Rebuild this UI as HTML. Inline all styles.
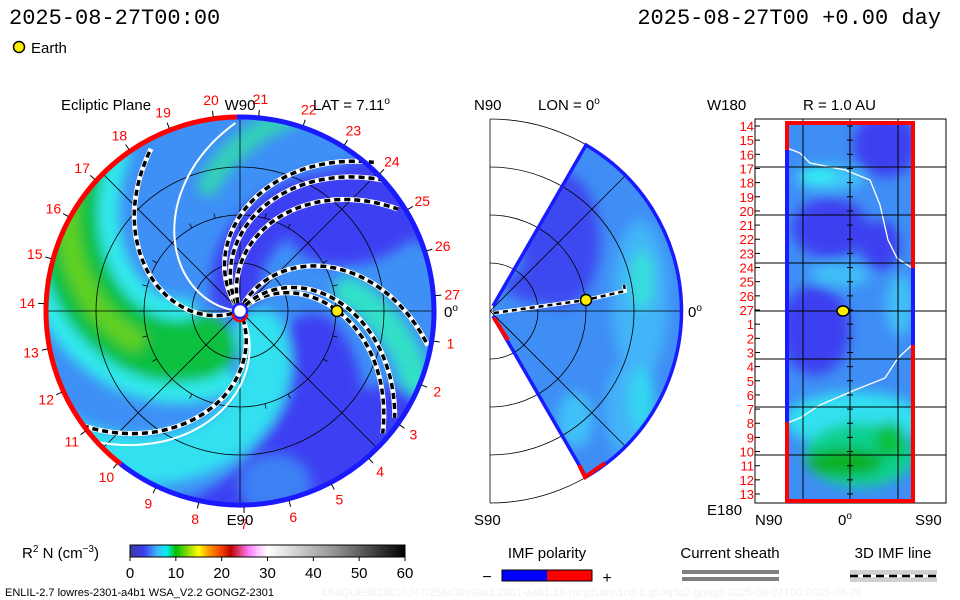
<!DOCTYPE html>
<html><head><meta charset="utf-8"><style>
html,body{margin:0;padding:0;background:#fff;}
svg{display:block;font-family:"Liberation Sans",sans-serif;}
</style></head><body>
<svg id="main" width="960" height="600" viewBox="0 0 960 600">
<defs>
 <filter id="blur" x="-20%" y="-20%" width="140%" height="140%"><feGaussianBlur stdDeviation="6"/></filter>
 <clipPath id="clipL"><circle cx="240" cy="311" r="193"/></clipPath>
 <clipPath id="clipM"><path d="M493,306 L586,145 A192,192 0 0 1 586,477 L493,316 Z"/></clipPath>
 <clipPath id="clipR"><rect x="785" y="122" width="129" height="380"/></clipPath>
</defs>

<text x="9" y="24" font-family="Liberation Mono, monospace" font-size="22">2025-08-27T00:00</text>
<text x="941" y="24" text-anchor="end" font-family="Liberation Mono, monospace" font-size="22">2025-08-27T00 +0.00 day</text>
<circle cx="19" cy="47" r="5.5" fill="#ffee00" stroke="#000" stroke-width="1.5"/>
<text x="31" y="53" font-size="15">Earth</text>

<!-- LEFT PANEL -->
<g id="left">
 <g clip-path="url(#clipL)">
  <circle cx="240" cy="311" r="193" fill="#3e90f6"/>
  <g id="bands" filter="url(#blur)"></g>
 </g>
 <g id="gridL" fill="none" stroke="#000" stroke-width="0.8"></g>
 <g id="armsL"></g>
 <g id="ringL"></g>
 <circle cx="240" cy="311" r="7" fill="#fff" stroke="#2020ff" stroke-width="2.5"/>
 <path d="M233,314 A7,7 0 0 0 247,314" fill="none" stroke="#ff0000" stroke-width="2.5"/>
 <circle cx="337" cy="311" r="5.5" fill="#ffee00" stroke="#000" stroke-width="1.5"/>
 <g id="carr" font-size="14" fill="#ff0000" text-anchor="middle"></g>
 <text x="61" y="110" font-size="15">Ecliptic Plane</text>
 <text x="240" y="110" font-size="15" text-anchor="middle">W90</text>
 <text x="313" y="110" font-size="15">LAT = 7.11<tspan dy="-6" font-size="10">o</tspan></text>
 <text x="240" y="525" font-size="15" text-anchor="middle">E90</text>
 <text x="444" y="317" font-size="15">0<tspan dy="-6" font-size="10">o</tspan></text>
</g>

<!-- MIDDLE PANEL -->
<g id="mid">
 <g clip-path="url(#clipM)">
  <rect x="480" y="130" width="210" height="360" fill="#3f8ef5"/>
  <g filter="url(#blur)">
   <ellipse cx="640" cy="300" rx="28" ry="80" fill="#42b4f8"/>
   <ellipse cx="630" cy="410" rx="25" ry="50" fill="#42b4f8"/>
   <ellipse cx="560" cy="240" rx="40" ry="68" fill="#3e48f0"/>
   <ellipse cx="545" cy="285" rx="40" ry="18" fill="#3e48f0"/>
   <ellipse cx="642" cy="280" rx="11" ry="30" fill="#36e0d8"/>
   <ellipse cx="642" cy="400" rx="12" ry="32" fill="#30d8f0"/>
   <ellipse cx="575" cy="420" rx="18" ry="28" fill="#40c0f8"/>
  </g>
 </g>
 <g id="gridM" fill="none" stroke="#000" stroke-width="0.8"></g>
 <path d="M493,306 L586,145 A192,192 0 0 1 586,477 L493,316" fill="none" stroke="#1a1aff" stroke-width="3.5"/>
 <path d="M494,318 L508,340" stroke="#ff0000" stroke-width="4"/>
 <path d="M579,465 L585,477 L605,463" fill="none" stroke="#ff0000" stroke-width="4"/>
 <path d="M494,313 L586,300 L625,291 L624,285" fill="none" stroke="#fff" stroke-width="4"/>
 <path d="M494,313 L586,300 L625,291 L624,285" fill="none" stroke="#000" stroke-width="2.5" stroke-dasharray="5 4"/>
 <circle cx="586" cy="300" r="5.5" fill="#ffee00" stroke="#000" stroke-width="1.5"/>
 <text x="474" y="110" font-size="15">N90</text>
 <text x="538" y="110" font-size="15">LON = 0<tspan dy="-6" font-size="10">o</tspan></text>
 <text x="474" y="525" font-size="15">S90</text>
 <text x="688" y="317" font-size="15">0<tspan dy="-6" font-size="10">o</tspan></text>
</g>

<!-- RIGHT PANEL -->
<g id="right">
 <rect x="755" y="119" width="191" height="384" fill="#fff" stroke="#000" stroke-width="1"/>
 <g clip-path="url(#clipR)">
  <rect x="785" y="122" width="129" height="380" fill="#3f8ef5"/>
  <g filter="url(#blur)">
   <ellipse cx="830" cy="228" rx="38" ry="30" fill="#3c40f0"/>
   <ellipse cx="815" cy="330" rx="35" ry="45" fill="#3c40f0"/>
   <ellipse cx="885" cy="145" rx="32" ry="32" fill="#3c40f0"/>
   <ellipse cx="880" cy="245" rx="20" ry="25" fill="#3c40f0"/>
   <ellipse cx="830" cy="178" rx="35" ry="12" fill="#40c8f8"/>
   <ellipse cx="818" cy="175" rx="18" ry="8" fill="#30f0f0"/>
   <ellipse cx="840" cy="275" rx="30" ry="12" fill="#40c0f8"/>
   <ellipse cx="900" cy="305" rx="14" ry="30" fill="#40c0f8"/>
   <ellipse cx="855" cy="420" rx="70" ry="28" fill="#30e0f0"/>
   <ellipse cx="860" cy="455" rx="55" ry="32" fill="#10d090"/>
   <ellipse cx="845" cy="462" rx="38" ry="14" fill="#10b020"/>
   <ellipse cx="890" cy="440" rx="15" ry="18" fill="#10c040"/>
  </g>
  <polyline points="787,148 800,153 810,163 845,170 870,180 880,205 888,240 897,258 912,268" fill="none" stroke="#fff" stroke-width="1.3"/>
  <polyline points="787,423 800,418 820,405 855,390 885,378 898,358 912,345" fill="none" stroke="#fff" stroke-width="1.3"/>
 </g>
 <g id="gridR" stroke="#000" stroke-width="1"></g>
 <g id="rightLabels" font-size="13" fill="#ff0000" text-anchor="end"></g>
 <line x1="787" y1="122" x2="787" y2="502" stroke="#ff0000" stroke-width="4"/>
 <line x1="787" y1="150" x2="787" y2="422" stroke="#1a1aff" stroke-width="4"/>
 <line x1="913" y1="122" x2="913" y2="502" stroke="#ff0000" stroke-width="4"/>
 <line x1="913" y1="268" x2="913" y2="345" stroke="#1a1aff" stroke-width="4"/>
 <line x1="785" y1="123" x2="915" y2="123" stroke="#ff0000" stroke-width="4"/>
 <line x1="785" y1="501" x2="915" y2="501" stroke="#ff0000" stroke-width="4"/>
 <ellipse cx="843" cy="311" rx="6" ry="5" fill="#ffee00" stroke="#000" stroke-width="1.5"/>
 <text x="707" y="110" font-size="15">W180</text>
 <text x="803" y="110" font-size="15">R = 1.0 AU</text>
 <text x="707" y="515" font-size="15">E180</text>
 <text x="755" y="525" font-size="15">N90</text>
 <text x="838" y="525" font-size="15">0<tspan dy="-6" font-size="10">o</tspan></text>
 <text x="915" y="525" font-size="15">S90</text>
</g>

<!-- COLORBAR -->
<g id="cbar">
 <text x="22" y="558" font-size="15">R<tspan dy="-6" font-size="10">2</tspan><tspan dy="6"> N (cm</tspan><tspan dy="-6" font-size="10">−3</tspan><tspan dy="6">)</tspan></text>
 <linearGradient id="cg" x1="0" x2="1" y1="0" y2="0"></linearGradient>
 <rect x="130" y="545" width="275" height="12" fill="url(#cg)" stroke="#000" stroke-width="1"/>
 <g id="cticks" font-size="15" text-anchor="middle"></g>
</g>

<!-- LEGENDS -->
<g>
 <text x="547" y="558" font-size="15" text-anchor="middle">IMF polarity</text>
 <text x="487" y="582" font-size="16" text-anchor="middle">−</text>
 <rect x="502" y="570" width="45" height="11" fill="#0000ff"/>
 <rect x="547" y="570" width="45" height="11" fill="#ff0000"/>
 <rect x="502" y="570" width="90" height="11" fill="none" stroke="#000" stroke-width="1"/>
 <text x="607" y="583" font-size="16" text-anchor="middle">+</text>
</g>
<g>
 <text x="730" y="558" font-size="15" text-anchor="middle">Current sheath</text>
 <rect x="682" y="570" width="97" height="4" fill="#808080"/>
 <rect x="682" y="577" width="97" height="4" fill="#808080"/>
</g>
<g>
 <text x="893" y="558" font-size="15" text-anchor="middle">3D IMF line</text>
 <rect x="850" y="570" width="87" height="12" fill="#d0d0d0"/>
 <line x1="850" y1="576" x2="937" y2="576" stroke="#fff" stroke-width="2.5"/>
 <line x1="850" y1="576" x2="937" y2="576" stroke="#000" stroke-width="2.5" stroke-dasharray="8 5"/>
</g>
<text x="5" y="596" font-size="11">ENLIL-2.7 lowres-2301-a4b1 WSA_V2.2 GONGZ-2301</text>
<text x="322" y="596" font-size="11" fill="#f0f0f0">UNIQUE0828010247/256x30x90x1.2301-a4b1.16-mcp1umn1cd-1.g53q5d2.gongz-2025-08-27T00   2025-08-28</text>
</svg>
<script>
// ---- data ----
const carringtonLabels = [1,2,3,4,5,6,7,8,9,10,11,12,13,14,15,16,17,18,19,20,21,22,23,24,25,26,27];
const rightPanelLabels = [14,15,16,17,18,19,20,21,22,23,24,25,26,27,1,2,3,4,5,6,7,8,9,10,11,12,13];
const colorbarTicks = [0,10,20,30,40,50,60];
const colorStops = [0,3,6,8,10,13,15,17,20,22,24,26,28,30,45,60];
const colorStopColors = ["#3c3ca0","#3c3cf0","#40b8ff","#00f0f0","#00c000","#a0e000","#ffff00","#ffa000","#f04000","#c00000","#e04080","#ff80ff","#ffc8ff","#ffffff","#909090","#000000"];
// spiral arms: start angle (deg), winding (deg/px), end radius (px)
const armStart = [128,120,108,66,44,50,-66,202];
const armWind  = [0.4,0.4,0.4,0.4,0.45,0.45,0.4,0.45];
const armEnd   = [200,196,190,192,188,190,195,185];
const sheetStart = [176,-60];
const sheetWind = [0.45,0.4];
const sheetEnd = [190,195];
// colour bands
const bandStart = [110,8,-10,326,54,156,250,250];
const bandWind  = [0.4,0.4,0.4,0.5,0.4,0.4,0.5,0.5];
const bandR0    = [20,80,110,30,110,130,50,110];
const bandColor = ["#3c40f2","#3c40f2","#3c40f2","#30e0f0","#30e0c8","#30d0b8","#10c040","#60d020"];
const bandWidth = [50,60,70,50,30,22,62,22];
const cyanUnderGreen = 105;

const NS = "http://www.w3.org/2000/svg";
const CX = 240, CY = 311;
function mk(tag, attrs, parent){const e=document.createElementNS(NS,tag);for(const k in attrs)e.setAttribute(k,attrs[k]);parent.appendChild(e);return e;}
function spiral(phi0,c,r0,r1){let d="";for(let r=r0;r<=r1;r+=3){const a=(phi0-c*r)*Math.PI/180;d+=(d?"L":"M")+(CX+r*Math.cos(a)).toFixed(1)+","+(CY-r*Math.sin(a)).toFixed(1);}return d;}
function pol(r,deg,cx,cy){const a=deg*Math.PI/180;return [(cx||CX)+r*Math.cos(a),(cy||CY)-r*Math.sin(a)];}

// bands
const bands = document.getElementById("bands");
const dk = mk("ellipse",{cx:360,cy:212,rx:75,ry:50,fill:"#3c40f2",transform:"rotate(-20 360 212)"},bands);


const cu = mk("path",{d:spiral(bandStart[6],bandWind[6],40,240),stroke:"#30e8ec","stroke-width":cyanUnderGreen,fill:"none"},bands);


bandStart.forEach((p,i)=>{
 const e = mk("path",{d:spiral(p,bandWind[i],bandR0[i],240),stroke:bandColor[i],"stroke-width":bandWidth[i],fill:"none","stroke-linecap":"round"},bands);
 
 
});
const dk2 = mk("ellipse",{cx:345,cy:452,rx:90,ry:50,fill:"#3c40f2",transform:"rotate(-35 345 452)"},bands);


const mb = mk("ellipse",{cx:275,cy:485,rx:35,ry:30,fill:"#3e80f4"},bands);



// grid left
const gL = document.getElementById("gridL");
[48,96,144].forEach(r=>mk("circle",{cx:CX,cy:CY,r:r},gL));
[0,45,90,135].forEach(a=>{const p=pol(193,a),q=pol(193,a+180);mk("line",{x1:p[0],y1:p[1],x2:q[0],y2:q[1]},gL);});
for(let a=0;a<360;a+=15){const p=pol(96,a),q=pol(101,a);mk("line",{x1:p[0],y1:p[1],x2:q[0],y2:q[1]},gL);}

// arms
const armsL = document.getElementById("armsL");
sheetStart.forEach((p,i)=>{
 const e = mk("path",{d:spiral(p,sheetWind[i],8,sheetEnd[i]),stroke:"#fff","stroke-width":2,fill:"none"},armsL);
 
 
});
armStart.forEach((p,i)=>{
 const d = spiral(p,armWind[i],8,armEnd[i]);
 mk("path",{d:d,stroke:"#fff","stroke-width":5,fill:"none"},armsL);
 const e = mk("path",{d:d,stroke:"#000","stroke-width":3.5,fill:"none","stroke-dasharray":"6 4"},armsL);
 
 
});

// outer ring
const ringL = document.getElementById("ringL");
function arc(r,a0,a1){const p=pol(r,a0),q=pol(r,a1);const large=Math.abs(a1-a0)>180?1:0;return `M${p[0]},${p[1]} A${r},${r} 0 ${large} 0 ${q[0]},${q[1]}`;}
const rb = mk("path",{d:arc(194,232,451),stroke:"#1a1aff","stroke-width":5,fill:"none"},ringL);


const rr = mk("path",{d:arc(194,91,232),stroke:"#ff0000","stroke-width":5,fill:"none"},ringL);



// carrington labels
const carr = document.getElementById("carr");
carringtonLabels.forEach(k=>{
 const ang = 4.5 - (360/27)*(k%27);
 const t = pol(196,ang), u = pol(202,ang);
 mk("line",{x1:t[0],y1:t[1],x2:u[0],y2:u[1],stroke:"#000","stroke-width":1},carr);
 const p = pol(213,ang);
 const e = mk("text",{x:p[0].toFixed(1),y:(p[1]+5).toFixed(1)},carr);
 e.textContent = k;
 
 
});

// middle grid
const gM = document.getElementById("gridM");
mk("line",{x1:490,y1:119,x2:490,y2:503},gM);
mk("line",{x1:490,y1:311,x2:682,y2:311},gM);
[45,-45].forEach(a=>{const p=pol(192,a,490,311);mk("line",{x1:490,y1:311,x2:p[0],y2:p[1]},gM);});
[48,96,144,192].forEach(r=>mk("path",{d:`M490,${311-r} A${r},${r} 0 0 1 490,${311+r}`},gM));

// right grid and labels
const gR = document.getElementById("gridR");
[167,215,263,311,359,407,455].forEach(y=>mk("line",{x1:755,y1:y,x2:946,y2:y},gR));
[803,850,898].forEach(x=>mk("line",{x1:x,y1:119,x2:x,y2:503},gR));
const rl = document.getElementById("rightLabels");
rightPanelLabels.forEach((k,i)=>{
 const y = 126 + i*(368/26);
 mk("line",{x1:847,y1:y,x2:853,y2:y,stroke:"#000","stroke-width":1},gR);
 mk("line",{x1:755,y1:y,x2:760,y2:y,stroke:"#000","stroke-width":1},gR);
 const e = mk("text",{x:754,y:(y+5).toFixed(1)},rl);
 e.textContent = k;
 
 
});

// colorbar
const cg = document.getElementById("cg");
colorStops.forEach((v,i)=>mk("stop",{offset:(v/60*100)+"%","stop-color":colorStopColors[i]},cg));
const ct = document.getElementById("cticks");
colorbarTicks.forEach(v=>{
 const x = 130 + v/60*275;
 mk("line",{x1:x,y1:557,x2:x,y2:561,stroke:"#000"},ct);
 const e = mk("text",{x:x,y:578},ct);
 e.textContent = v;
 
 
});
</script>
</body></html>
